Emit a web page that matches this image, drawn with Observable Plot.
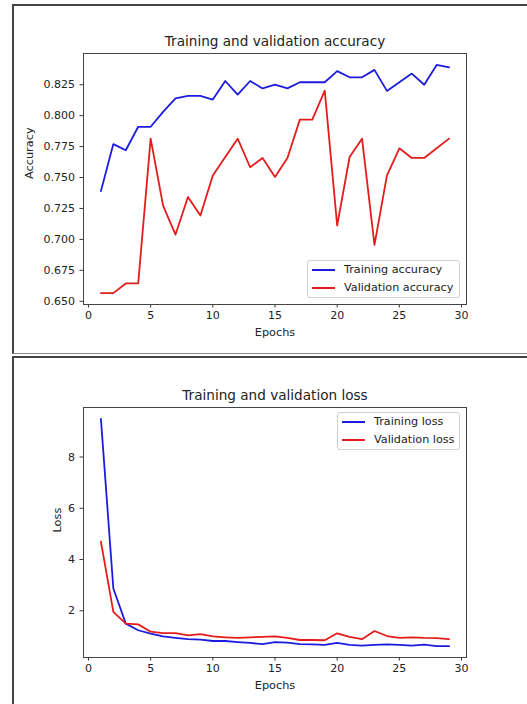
<!DOCTYPE html>
<html>
<head>
<meta charset="utf-8">
<script src="https://cdn.jsdelivr.net/npm/d3@7"></script>
<script src="https://cdn.jsdelivr.net/npm/@observablehq/plot@0.6"></script>
<style>
  html, body { margin: 0; padding: 0; background: #fff; width: 527px; height: 704px; overflow: hidden; }
  body { position: relative; font-family: "DejaVu Sans", sans-serif; color: #222; }
  .box { position: absolute; box-sizing: border-box; background: #fff; }
  #box1 { left: 12px; top: 4px; width: 516px; height: 350px; border-top: 2px solid #444; border-left: 2px solid #444; border-right: 1px solid #aaa; border-bottom: 1px solid #888; }
  #box2 { left: 12px; top: 356px; width: 516px; height: 360px; border-top: 2px solid #444; border-left: 2px solid #444; border-right: 1px solid #aaa; }
  .chart { position: absolute; left: 13px; }
  .legend { position: absolute; box-sizing: border-box; background: rgba(255,255,255,0.85); border: 1px solid #d0d0d0; border-radius: 3px; font-size: 11.2px; color: #222; }
  .legend .row { position: absolute; left: 0; height: 14px; }
  .legend .sw { position: absolute; left: 4px; width: 23px; height: 0; border-top: 2px solid; top: -1px; }
  .legend .lb { position: absolute; white-space: nowrap; top: -7px; line-height: 14px; }
</style>
</head>
<body>
<div class="box" id="box1"></div>
<div class="box" id="box2"></div>
<div class="chart" id="c1" style="top:5px"></div>
<div class="chart" id="c2" style="top:358px"></div>
<script>
// ---- data ----
const epochs = [1,2,3,4,5,6,7,8,9,10,11,12,13,14,15,16,17,18,19,20,21,22,23,24,25,26,27,28,29];
const trainAcc = [0.739,0.777,0.772,0.791,0.791,0.803,0.814,0.816,0.816,0.813,0.828,0.817,0.828,0.822,0.825,0.822,0.827,0.827,0.827,0.836,0.831,0.831,0.837,0.820,0.827,0.834,0.825,0.841,0.839];
const valAcc = [0.6566,0.6566,0.6644,0.6644,0.7814,0.7273,0.7039,0.7343,0.7193,0.7516,0.7666,0.7814,0.7583,0.7658,0.7505,0.7658,0.7968,0.7968,0.8202,0.7112,0.7666,0.7814,0.6956,0.7516,0.7736,0.7658,0.7658,0.7736,0.7814];
const trainLoss = [9.49,2.87,1.50,1.24,1.11,1.00,0.94,0.89,0.875,0.82,0.82,0.78,0.745,0.70,0.78,0.76,0.70,0.69,0.67,0.745,0.67,0.64,0.67,0.69,0.67,0.64,0.68,0.62,0.62];
const valLoss = [4.70,1.96,1.50,1.47,1.185,1.13,1.13,1.04,1.09,1.00,0.965,0.94,0.965,0.98,1.00,0.94,0.86,0.86,0.85,1.12,0.98,0.89,1.21,1.015,0.94,0.965,0.94,0.93,0.89];
const xTicks = [0,5,10,15,20,25,30];
const accTicks = [0.650,0.675,0.700,0.725,0.750,0.775,0.800,0.825];
const lossTicks = [2,4,6,8];
const accSeries = ["Training accuracy","Validation accuracy"];
const lossSeries = ["Training loss","Validation loss"];
const colors = ["#1c1ce0","#e41c1c"];

// ---- helpers ----
function padded(values, frac = 0.05) {
  const [a, b] = d3.extent(values);
  const m = (b - a) * frac;
  return [a - m, b + m];
}
const xDomain = padded(epochs);

function makeChart({title, ylabel, yLabelDx, series, values, yTicks, yFormat, height, mt, mb}) {
  const rows = [];
  series.forEach((s, i) => values[i].forEach((v, j) => rows.push({epoch: epochs[j], value: v, series: s, idx: i})));
  const allVals = values.flat();
  return Plot.plot({
    width: 513,
    height,
    marginLeft: 70,
    marginRight: 60,
    marginTop: mt,
    marginBottom: mb,
    style: {fontFamily: "DejaVu Sans, sans-serif", fontSize: "11px", color: "#222", background: "transparent", overflow: "visible"},
    x: {domain: xDomain},
    y: {domain: padded(allVals)},
    marks: [
      Plot.axisX({ticks: xTicks, tickSize: 3.5, tickPadding: 3, label: null, stroke: "#333", fill: "#222"}),
      Plot.axisY({ticks: yTicks, tickSize: 3.5, tickPadding: 5, label: null, tickFormat: yFormat, stroke: "#333", fill: "#222"}),
      ...series.map((s, i) => Plot.line(rows.filter(r => r.idx === i), {x: "epoch", y: "value", stroke: colors[i], strokeWidth: 1.8})),
      Plot.frame({stroke: "#444", strokeWidth: 1}),
      Plot.text([title], {frameAnchor: "top", lineAnchor: "middle", dy: -12, fontSize: 13.6, fill: "#222"}),
      Plot.text(["Epochs"], {frameAnchor: "bottom", lineAnchor: "middle", dy: 28, fontSize: 11.3, fill: "#222"}),
      Plot.text([ylabel], {frameAnchor: "left", lineAnchor: "middle", dx: yLabelDx, rotate: -90, fontSize: 11.3, fill: "#222"})
    ]
  });
}

function makeLegend(series, left, top, width) {
  const lg = document.createElement("div");
  lg.className = "legend";
  lg.style.left = left + "px";
  lg.style.top = top + "px";
  lg.style.width = width + "px";
  lg.style.height = "38px";
  series.forEach((s, i) => {
    const row = document.createElement("div");
    row.className = "row";
    row.style.top = (i === 0 ? 9 : 27) + "px";
    const sw = document.createElement("div");
    sw.className = "sw";
    sw.style.borderTopColor = colors[i];
    const lb = document.createElement("div");
    lb.className = "lb";
    lb.style.left = "36px";
    lb.textContent = s;
    row.appendChild(sw);
    row.appendChild(lb);
    lg.appendChild(row);
  });
  document.body.appendChild(lg);
}

document.getElementById("c1").appendChild(makeChart({
  title: "Training and validation accuracy",
  ylabel: "Accuracy",
  yLabelDx: -54,
  series: accSeries,
  values: [trainAcc, valAcc],
  yTicks: accTicks,
  yFormat: d3.format(".3f"),
  height: 348, mt: 48, mb: 49
}));
document.getElementById("c2").appendChild(makeChart({
  title: "Training and validation loss",
  ylabel: "Loss",
  yLabelDx: -26,
  series: lossSeries,
  values: [trainLoss, valLoss],
  yTicks: lossTicks,
  yFormat: d3.format("d"),
  height: 346, mt: 49, mb: 47
}));
makeLegend(accSeries, 307, 260, 153);
makeLegend(lossSeries, 337, 412, 123);
</script>
</body>
</html>
